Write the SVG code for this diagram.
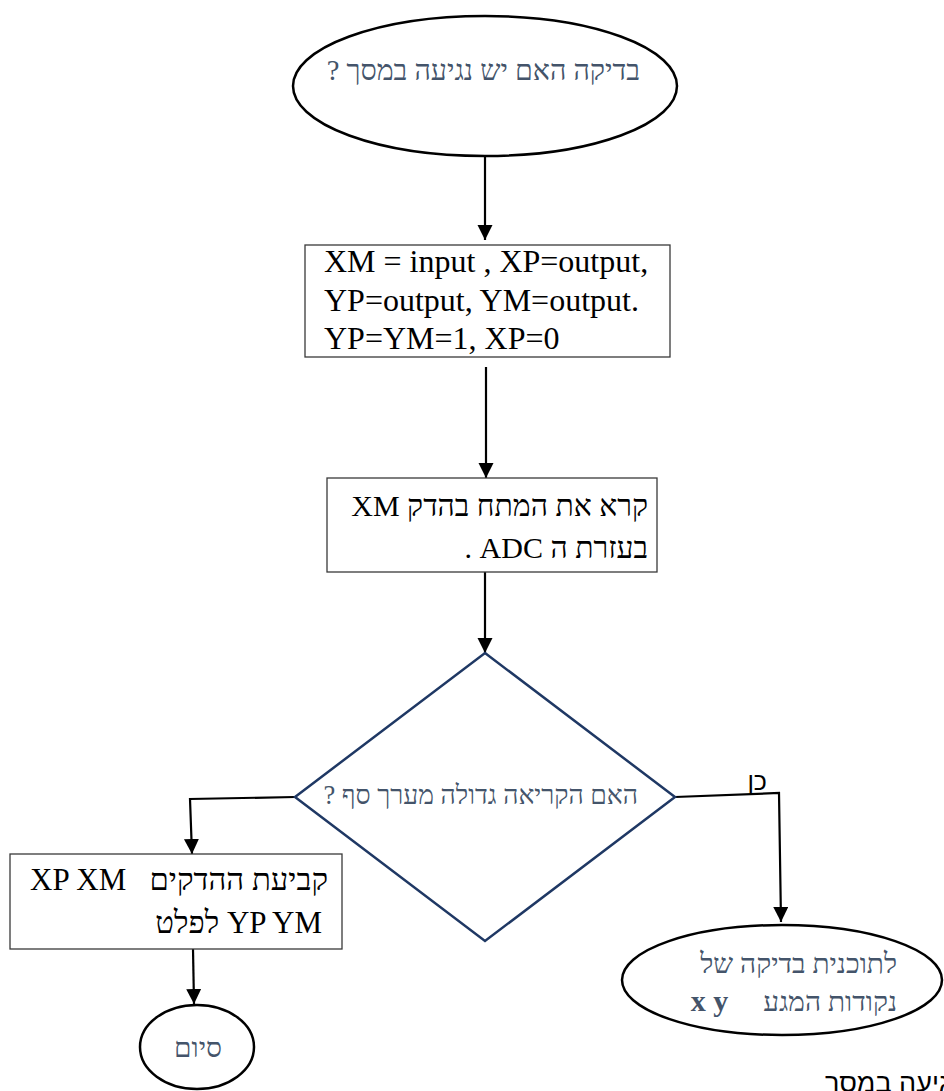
<svg xmlns="http://www.w3.org/2000/svg" width="944" height="1091" viewBox="0 0 944 1091">
  <style>
    .term { fill: #ffffff; stroke: #000000; stroke-width: 2.5; }
    .box { fill: #ffffff; stroke: #3a3a3a; stroke-width: 1.3; }
    .dec { fill: #ffffff; stroke: #1f3864; stroke-width: 2.5; }
    .conn { fill: none; stroke: #000000; stroke-width: 2.2; }
    .serif { font-family: "Liberation Serif", "Times New Roman", serif; }
    .sans { font-family: "Liberation Sans", Arial, sans-serif; }
    .gray { fill: #44546a; }
    .black { fill: #000000; }
    .rtl { direction: rtl; unicode-bidi: embed; }
  </style>
  <defs>
    <marker id="arrow" markerUnits="userSpaceOnUse" markerWidth="16" markerHeight="16" refX="15" refY="7.5" orient="auto">
      <path d="M0,0 L15,7.5 L0,15 Z" fill="#000000"/>
    </marker>
  </defs>

  <rect width="944" height="1091" fill="#ffffff"/>

  <!-- connectors -->
  <g id="connectors">
    <path class="conn" d="M485,156 L485,240" marker-end="url(#arrow)"/>
    <path class="conn" d="M486,367 L486,478" marker-end="url(#arrow)"/>
    <path class="conn" d="M485,572 L485,653" marker-end="url(#arrow)"/>
    <path class="conn" d="M295,797 L190,799 L192,854" marker-end="url(#arrow)"/>
    <path class="conn" d="M675,797 L779,793 L781,922" marker-end="url(#arrow)"/>
    <path class="conn" d="M193,949 L194,1004" marker-end="url(#arrow)"/>
    <text class="sans black rtl" x="767" y="790" font-size="25" text-anchor="start">כן</text>
  </g>

  <!-- start terminal -->
  <g id="start">
    <ellipse class="term" cx="485" cy="86" rx="192" ry="70"/>
    <text class="serif gray rtl" x="640" y="80" font-size="28.5" text-anchor="start">בדיקה האם יש נגיעה במסך ?</text>
  </g>

  <!-- pin setup -->
  <g id="setup">
    <rect class="box" x="305" y="245" width="365" height="112"/>
    <text class="serif black" font-size="32">
      <tspan x="324" y="272">XM = input , XP=output,</tspan>
      <tspan x="324" y="311">YP=output, YM=output.</tspan>
      <tspan x="324" y="349">YP=YM=1, XP=0</tspan>
    </text>
  </g>

  <!-- ADC read -->
  <g id="read">
    <rect class="box" x="327" y="478" width="330" height="94"/>
    <text class="serif black rtl" font-size="30" text-anchor="start">
      <tspan x="648" y="516">קרא את המתח בהדק XM</tspan>
      <tspan x="648" y="558">בעזרת ה ADC .</tspan>
    </text>
  </g>

  <!-- threshold decision -->
  <g id="decision">
    <polygon class="dec" points="485,653 675,797 485,941 295,797"/>
    <text class="serif gray rtl" x="638" y="804" font-size="26.5" text-anchor="start">האם הקריאה גדולה מערך סף ?</text>
  </g>

  <!-- pins to float -->
  <g id="float">
    <rect class="box" x="10" y="854" width="332" height="95"/>
    <text class="serif black rtl" font-size="31" text-anchor="start">
      <tspan x="328" y="890">קביעת ההדקים&#160;&#160; XP XM</tspan>
      <tspan x="322" y="933">YP YM לפלט</tspan>
    </text>
  </g>

  <!-- end terminal -->
  <g id="end">
    <ellipse class="term" cx="197" cy="1047" rx="57" ry="42"/>
    <text class="serif gray" x="198" y="1057" font-size="28" text-anchor="middle">סיום</text>
  </g>

  <!-- touch point routine -->
  <g id="touch">
    <ellipse class="term" cx="782" cy="980" rx="160" ry="55"/>
    <text class="serif gray rtl" font-size="28" text-anchor="start">
      <tspan x="897" y="973">לתוכנית בדיקה של</tspan>
      <tspan x="897" y="1011">נקודות המגע&#160;&#160;&#160;&#160; <tspan font-weight="bold" font-size="30">x y</tspan></tspan>
    </text>
  </g>

  <!-- trailing caption -->
  <text class="sans black rtl" x="825" y="1092" font-size="27" text-anchor="end">נגיעה במסך</text>
</svg>
